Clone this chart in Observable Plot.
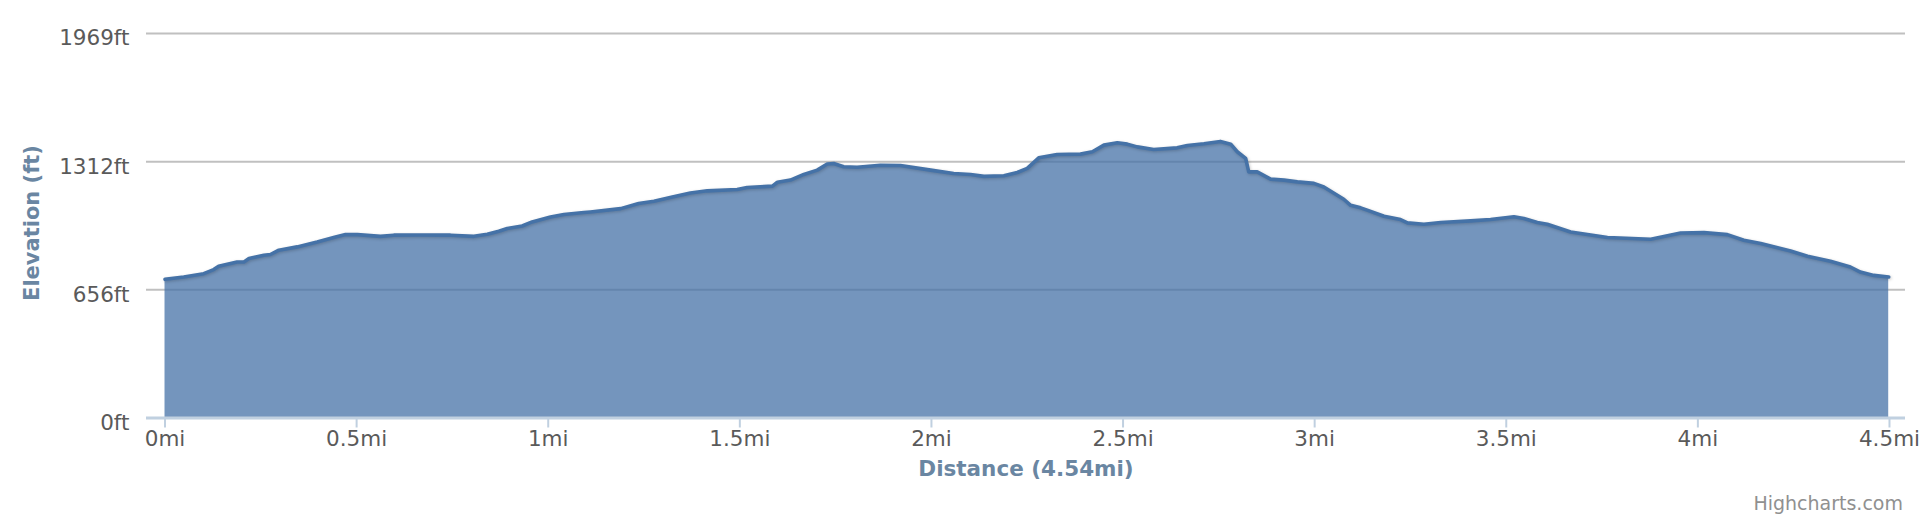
<!DOCTYPE html>
<html>
<head>
<meta charset="utf-8">
<script src="https://cdn.jsdelivr.net/npm/d3@7"></script>
<script src="https://cdn.jsdelivr.net/npm/@observablehq/plot@0.6"></script>
<style>
  html, body { margin: 0; padding: 0; background: #fff; overflow: hidden; }
  #wrap { position: relative; width: 1924px; height: 528px; }
  #credits { position: absolute; right: 21px; top: 492px; font: 19px "DejaVu Sans", sans-serif; color: #909090; }
  svg g[aria-label="line"] path { filter: drop-shadow(1px 1.5px 1.5px rgba(0,0,0,0.2)); }
</style>
</head>
<body>
<div id="wrap"><div id="credits">Highcharts.com</div></div>
<script>
// Distance along the route (miles)
const distances = [
  0, 0.049, 0.101, 0.127, 0.140, 0.188, 0.206, 0.219, 0.258, 0.275,
  0.297, 0.345, 0.397, 0.445, 0.471, 0.502, 0.562, 0.597, 0.658, 0.745,
  0.806, 0.841, 0.871, 0.893, 0.932, 0.958, 1.006, 1.041, 1.093, 1.110,
  1.189, 1.236, 1.276, 1.324, 1.371, 1.415, 1.493, 1.519, 1.585, 1.598,
  1.632, 1.667, 1.702, 1.728, 1.745, 1.771, 1.806, 1.867, 1.919, 1.998,
  2.058, 2.102, 2.137, 2.189, 2.224, 2.250, 2.280, 2.328, 2.389, 2.420,
  2.450, 2.485, 2.511, 2.537, 2.580, 2.641, 2.668, 2.711, 2.754, 2.781,
  2.798, 2.820, 2.828, 2.850, 2.885, 2.920, 2.955, 2.998, 3.024, 3.076,
  3.094, 3.120, 3.137, 3.181, 3.224, 3.242, 3.285, 3.329, 3.407, 3.459,
  3.520, 3.546, 3.581, 3.607, 3.668, 3.764, 3.877, 3.955, 4.016, 4.077,
  4.120, 4.164, 4.242, 4.286, 4.346, 4.398, 4.424, 4.459, 4.498
];
// Elevation (feet)
const elevations = [
  710, 722, 739, 760, 777, 799, 799, 816, 833, 837,
  859, 876, 901, 927, 939, 939, 930, 936, 937, 936,
  930, 941, 956, 970, 983, 1004, 1029, 1042, 1052, 1055,
  1072, 1098, 1110, 1132, 1152, 1163, 1170, 1180, 1187, 1207,
  1218, 1247, 1269, 1300, 1303, 1286, 1284, 1294, 1293, 1269,
  1252, 1247, 1237, 1240, 1257, 1278, 1332, 1349, 1351, 1363,
  1397, 1409, 1402, 1388, 1375, 1383, 1395, 1404, 1416, 1402,
  1363, 1329, 1260, 1260, 1223, 1218, 1209, 1201, 1183, 1120,
  1089, 1076, 1064, 1033, 1016, 999, 992, 1001, 1009, 1016,
  1030, 1021, 1001, 992, 952, 924, 915, 947, 949, 939,
  910, 893, 855, 828, 802, 773, 747, 730, 722
];
const xTickValues = [0, 0.5, 1, 1.5, 2, 2.5, 3, 3.5, 4, 4.5];
const xTickLabels = ["0mi", "0.5mi", "1mi", "1.5mi", "2mi", "2.5mi", "3mi", "3.5mi", "4mi", "4.5mi"];
const yTickValues = [0, 656.17, 1312.34, 1968.5];
const yTickLabels = ["0ft", "656ft", "1312ft", "1969ft"];
const xTitle = "Distance (4.54mi)";
const yTitle = "Elevation (ft)";

const profile = distances.map((d, i) => ({mi: d, ft: elevations[i]}));

const font = "DejaVu Sans, sans-serif";
const titleColor = "#6a86a2";
const labelColor = "#5a5a5a";

const chart = Plot.plot({
  width: 1924,
  height: 528,
  marginLeft: 146,
  marginRight: 19,
  marginTop: 33,
  marginBottom: 110.5,
  style: {fontFamily: font, background: "#fff"},
  x: {domain: [-0.0483, 4.5418]},
  y: {domain: [0, 1968.5]},
  marks: [
    Plot.ruleY(yTickValues.slice(1), {stroke: "#c0c0c0", strokeWidth: 2}),
    Plot.areaY(profile, {x: "mi", y: "ft", fill: "#4572A7", fillOpacity: 0.75}),
    Plot.lineY(profile, {x: "mi", y: "ft", stroke: "#4572A7", strokeWidth: 3.6, strokeLinejoin: "round", strokeLinecap: "round"}),
    Plot.ruleY([0], {stroke: "#c0d0e0", strokeWidth: 3}),
    Plot.axisX({
      ticks: xTickValues,
      tickFormat: d => xTickLabels[xTickValues.indexOf(d)],
      tickSize: 10, tickPadding: 3,
      stroke: "#c0d0e0", strokeWidth: 2,
      fill: labelColor, fontSize: 21.5, label: null
    }),
    Plot.axisY({
      ticks: yTickValues,
      tickFormat: d => yTickLabels[yTickValues.indexOf(d)],
      tickSize: 0, tickPadding: 17, dy: 5,
      fill: labelColor, fontSize: 21.5, label: null
    }),
    Plot.text([xTitle], {frameAnchor: "bottom", dy: 58, text: d => d, fill: titleColor, fontSize: 21.5, fontWeight: "bold"}),
    Plot.text([yTitle], {frameAnchor: "left", textAnchor: "middle", dx: -114, dy: -2.75, rotate: -90, text: d => d, fill: titleColor, fontSize: 21, fontWeight: "bold"})
  ]
});
document.getElementById("wrap").prepend(chart);
</script>
</body>
</html>
